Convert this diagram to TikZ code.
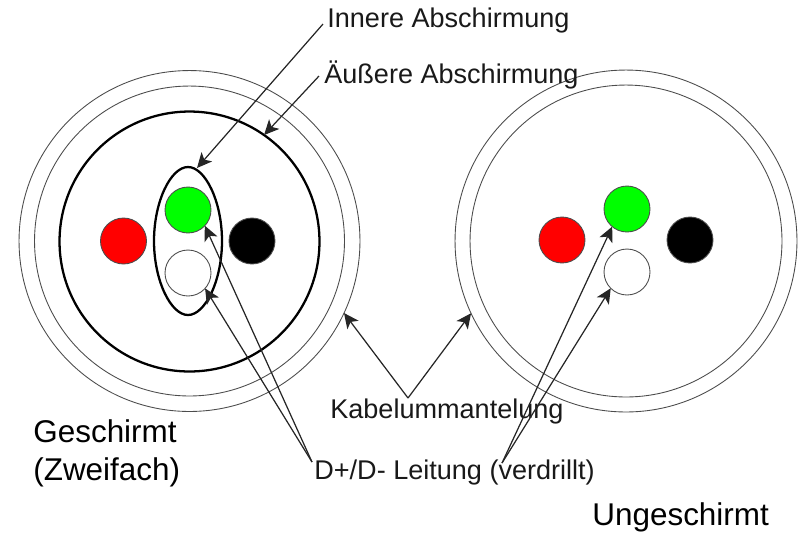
\documentclass[tikz,border=0pt]{standalone}
\usepackage{fontspec}
\setmainfont{Liberation Sans}
\usetikzlibrary{arrows.meta}
\tikzset{
    mantel/.style={circle,draw=black!70,line width=.5pt,inner sep=0,outer sep=0},
    schirm/.style={draw=black,line width=1.3pt,inner sep=0,outer sep=0},
    ader/.style={circle,draw=black!70,line width=.5pt,inner sep=0,outer sep=0,minimum size=.92cm},
    zeiger/.style={-{Stealth[length=8.5pt,width=8pt,inset=2.2pt]},draw=black!85,line width=.7pt},
    klein/.style={inner sep=0,anchor=base west,text=black!90,font=\fontsize{15.4pt}{18pt}\selectfont},
    gross/.style={inner sep=0,anchor=base west,font=\fontsize{17.9pt}{21pt}\selectfont},
}
\begin{document}
\begin{tikzpicture}[x=.02cm,y=-.02cm]
            \useasboundingbox (0,0) rectangle (800,532);
            % geschirmt
            \node[mantel,minimum size=6.82cm] (a1) at (189.5,241) {};
            \node[mantel,minimum size=6.2cm] (a2) at (189.5,241) {};
            \node[schirm,circle,minimum size=5.2cm] (a3) at (189.5,241.5) {};
            \coordinate (a4) at (197,168);
            \draw[schirm] (188,167) .. controls (171,167) and (154,201) .. (154,241)
                .. controls (154,281) and (171,315) .. (188,315)
                .. controls (205,315) and (222,281) .. (222,241)
                .. controls (222,201) and (205,167) .. (188,167) -- cycle;
            \node[ader,fill=red] (ar) at (123.5,241) {};
            \node[ader,fill=green] (ag) at (188,210) {};
            \node[ader,fill=black] (as) at (252,241) {};
            \node[ader] (aw) at (188,273) {};
            % ungeschirmt
            \node[mantel,minimum size=6.84cm] (b1) at (626,241) {};
            \node[mantel,minimum size=6.24cm] (b2) at (626,241) {};
            \node[ader,fill=red] (br) at (562,240) {};
            \node[ader,fill=green] (bg) at (627,209) {};
            \node[ader,fill=black] (bs) at (690,240) {};
            \node[ader] (bw) at (627,272) {};
            % texte
            \node[klein] (t1) at (327,27) {Innere Abschirmung};
            \node[klein] (t2) at (324,83) {Äußere Abschirmung};
            \node[klein] (t3) at (330,418) {Kabelummantelung};
            \node[klein] (t4) at (314,479) {D+/D- Leitung (verdrillt)};
            \node[gross] (t5) at (33,442) {Geschirmt};
            \node[gross] (t6) at (33,480) {(Zweifach)};
            \node[gross] (t7) at (592,525) {Ungeschirmt};
            % zeiger
            \coordinate (c1) at (323,24);
            \coordinate (c2) at (319,76);
            \coordinate (c3) at (408,398);
            \coordinate (c4) at (312,462);
            \coordinate (c5) at (502,463);
            \draw[zeiger] (c1) -- (a4);
            \draw[zeiger] (c2) -- (a3.55.6);
            \draw[zeiger] (c3) -- (a1.-25);
            \draw[zeiger] (c3) -- (b1.205);
            \draw[zeiger] (c4) -- (ag.-43);
            \draw[zeiger] (c4) -- (aw.-42);
            \draw[zeiger] (c5) -- (bg.230);
            \draw[zeiger] (c5) -- (bw.225);
        \end{tikzpicture}
\end{document}
